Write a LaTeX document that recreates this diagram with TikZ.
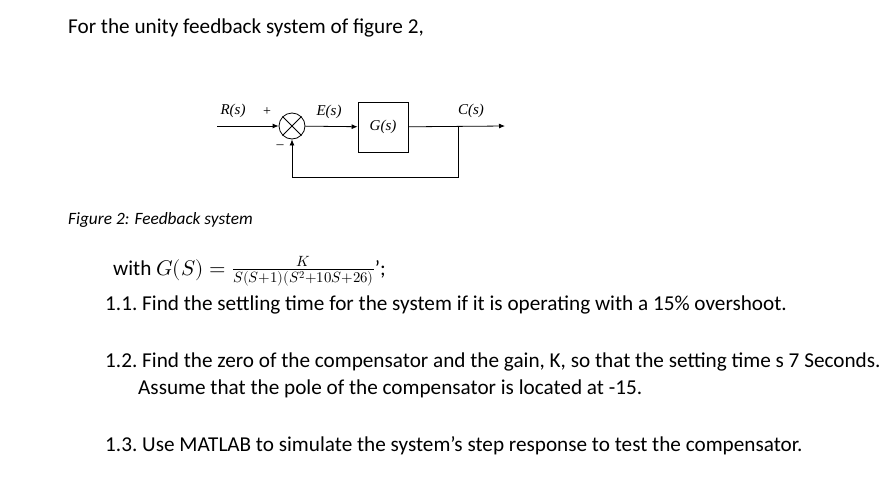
\documentclass[tikz,border=0pt]{standalone}
\usepackage{fontspec}
\usepackage{unicode-math}
\setmainfont{Carlito}
\setmathfont{Latin Modern Math}
\newfontfamily\diagramfont{Liberation Serif}
\usetikzlibrary{positioning,arrows.meta}
\tikzstyle{textLine} = [anchor=base west, inner sep=0pt, font=\fontsize{21.2}{24}\selectfont]
\tikzstyle{signal} = [thick, -{Latex[length=6pt,width=5pt]}]
\tikzstyle{block} = [draw, thick, minimum width=50pt, minimum height=50pt, font=\fontsize{15}{15}\diagramfont\itshape]
\tikzstyle{sigLabel} = [font=\fontsize{15}{15}\diagramfont\itshape]
\begin{document}
\begin{tikzpicture}[x=1pt, y=-1pt]
  \useasboundingbox (0,0) rectangle (894,498);
  \node [textLine] (title) at (68,33) {For the unity feedback system of figure 2,};
  % block diagram
  \coordinate (input) at (217,126);
  \node [draw, thick, circle, minimum size=26pt, inner sep=0pt] (sum) at (292,126) {};
  \draw [thick] (sum.north west) -- (sum.south east) (sum.north east) -- (sum.south west);
  \node [block] (plant) at (383,127) {G(s)};
  \coordinate (branch) at (458,126);
  \coordinate (output) at (505,126);
  \coordinate (back) at (458,177);
  \draw [signal] (input) -- (sum);
  \draw [signal] (sum) -- (plant);
  \draw [signal] (plant) -- (output);
  \draw [signal] (branch) -- (back) -| (sum);
  \node [sigLabel] (rLabel) at (233,111) {R(s)};
  \node [sigLabel, font=\fontsize{14}{14}\diagramfont] (plus) at (267,112) {+};
  \node [sigLabel, font=\fontsize{14}{14}\diagramfont] (minus) at (280,147) {–};
  \node [sigLabel] (eLabel) at (329,112) {E(s)};
  \node [sigLabel] (cLabel) at (471,111) {C(s)};
  \node [textLine, font=\fontsize{17.3}{19}\selectfont\itshape] (caption) at (68,224) {Figure 2: Feedback system};
  \node [textLine] (gLine) at (113,275) {with $G(S)=\frac{K}{S(S+1)(S^2+10S+26)}$’;};
  \node [textLine] (q1) at (105,310) {1.1.\ Find the settling time for the system if it is operating with a 15\% overshoot.};
  \node [textLine] (q2) at (105,367) {1.2.\ Find the zero of the compensator and the gain, K, so that the setting time s 7 Seconds.};
  \node [textLine] (q2b) at (138,394) {Assume that the pole of the compensator is located at -15.};
  \node [textLine] (q3) at (105,451) {1.3.\ Use MATLAB to simulate the system’s step response to test the compensator.};
\end{tikzpicture}
\end{document}
